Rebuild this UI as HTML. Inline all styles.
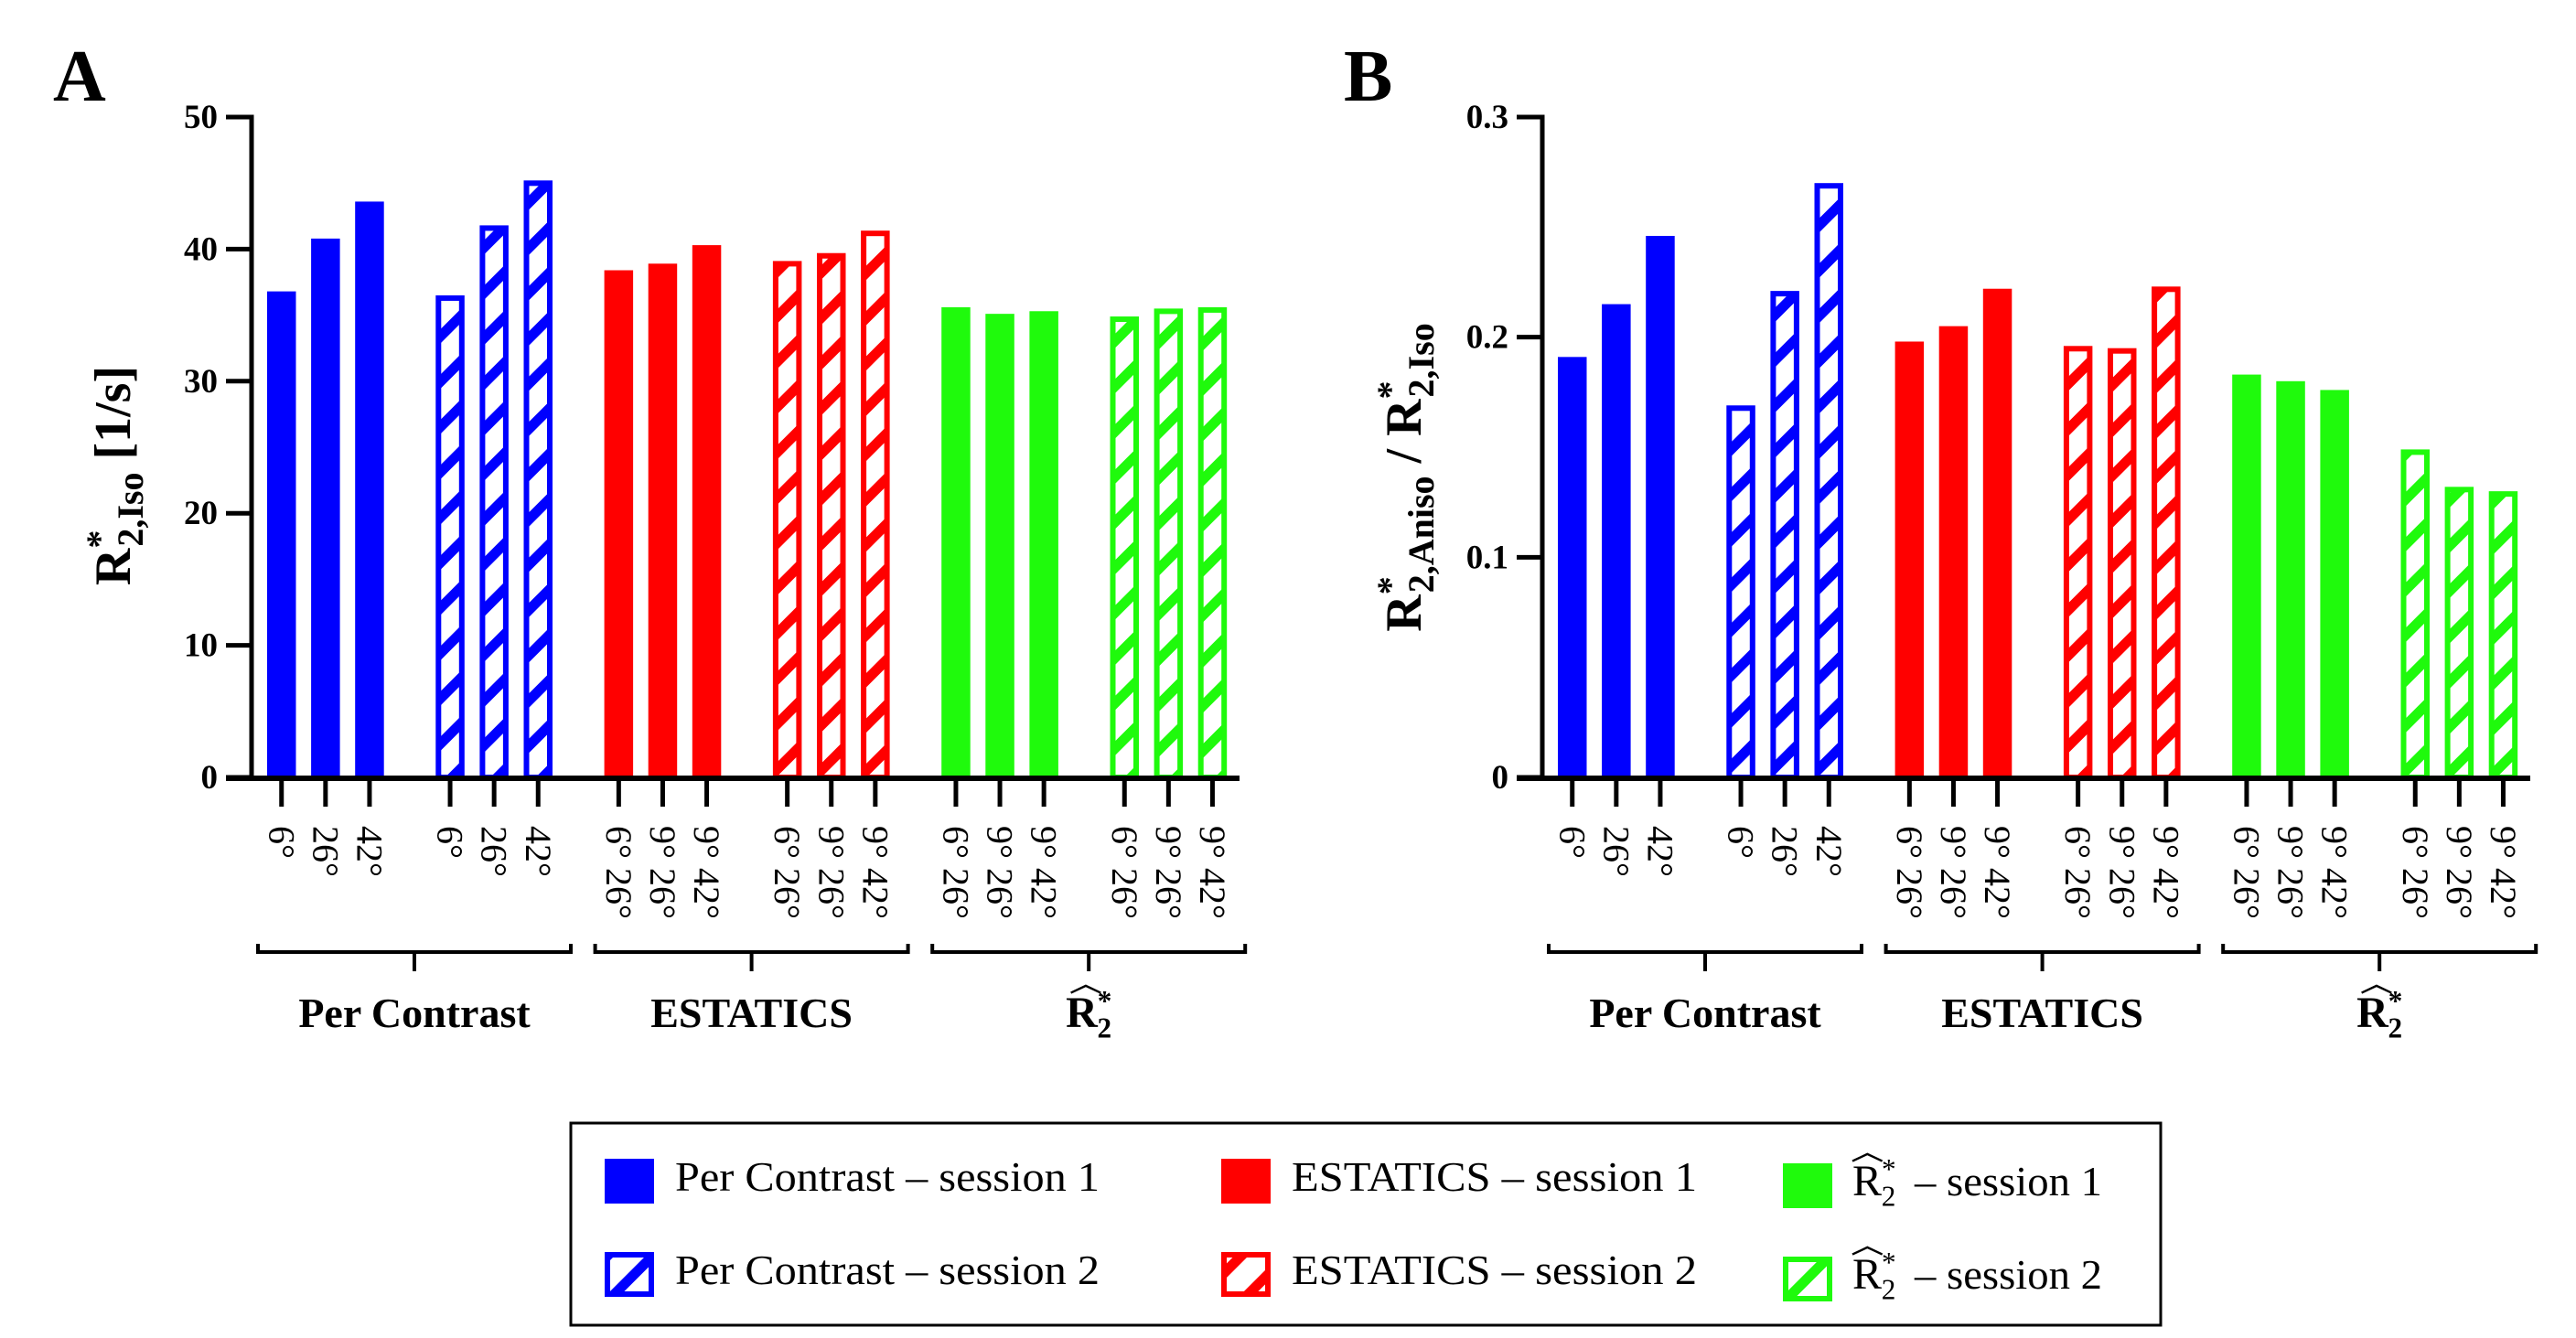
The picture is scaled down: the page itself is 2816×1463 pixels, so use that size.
<!DOCTYPE html>
<html><head><meta charset="utf-8"><style>
html,body{margin:0;padding:0;background:#fff;}
svg, svg text{font-family:"Liberation Serif","DejaVu Serif",serif;}
</style></head><body>
<svg id="fig" width="2816" height="1458" viewBox="0 0 2816 1458" xmlns="http://www.w3.org/2000/svg" font-family="Liberation Serif, DejaVu Serif, serif">
<defs>
<pattern id="hb" patternUnits="userSpaceOnUse" width="35" height="10" patternTransform="rotate(45)"><rect width="35" height="10" fill="#fff"/><rect width="11" height="10" fill="#0000ff"/></pattern>
<pattern id="hr" patternUnits="userSpaceOnUse" width="35" height="10" patternTransform="rotate(45)"><rect width="35" height="10" fill="#fff"/><rect width="11" height="10" fill="#ff0000"/></pattern>
<pattern id="hg" patternUnits="userSpaceOnUse" width="35" height="10" patternTransform="rotate(45)"><rect width="35" height="10" fill="#fff"/><rect width="11" height="10" fill="#1ffa0c"/></pattern>
</defs>
<g id="panelA"></g>
<g id="panelB"></g>
<g id="legend"></g>
</svg>
<script>
// ---- data ----
const groupNames = ["Per Contrast", "ESTATICS", "R2hat"];
const sessions = ["session 1", "session 2"];
const angleLabelsPC = ["6°", "26°", "42°"];
const angleLabelsOther = ["6° 26°", "9° 26°", "9° 42°"];
const ticksA = [0, 10, 20, 30, 40, 50];
const tickLabelsA = ["0", "10", "20", "30", "40", "50"];
const ticksB = [0, 0.1, 0.2, 0.3];
const tickLabelsB = ["0", "0.1", "0.2", "0.3"];
// Panel A values (R2*,Iso [1/s])
const pcS1A = [36.8, 40.8, 43.6];
const pcS2A = [36.5, 41.8, 45.2];
const esS1A = [38.4, 38.9, 40.3];
const esS2A = [39.1, 39.7, 41.4];
const r2S1A = [35.6, 35.1, 35.3];
const r2S2A = [34.9, 35.5, 35.6];
// Panel B values (R2*,Aniso / R2*,Iso)
const pcS1B = [0.191, 0.215, 0.246];
const pcS2B = [0.169, 0.221, 0.270];
const esS1B = [0.198, 0.205, 0.222];
const esS2B = [0.196, 0.195, 0.223];
const r2S1B = [0.183, 0.180, 0.176];
const r2S2B = [0.149, 0.132, 0.130];

const NS = "http://www.w3.org/2000/svg";
const FONT = "Liberation Serif, DejaVu Serif, serif";
const colors = ["#0000ff", "#ff0000", "#1ffa0c"];
const patterns = ["url(#hb)", "url(#hr)", "url(#hg)"];
function mk(tag, attrs, parent) {
  const e = document.createElementNS(NS, tag);
  if (tag === "text") e.setAttribute("font-family", FONT);
  for (const k in attrs) e.setAttribute(k, attrs[k]);
  if (parent) parent.appendChild(e);
  return e;
}
function rhat(parent, x, y, size, weight, anchorCenter) {
  const g = mk("g", {}, parent);
  
  
  const t = mk("text", {x: x, y: y, "font-size": size, "font-weight": weight, "text-anchor": anchorCenter ? "middle" : "start"}, g);
  t.textContent = "R";
  const s1 = mk("tspan", {dy: -size * 0.38, "font-size": size * 0.65}, t); s1.textContent = "*";
  const s2 = mk("tspan", {dx: -size * 0.33, dy: size * 0.62, "font-size": size * 0.65}, t); s2.textContent = "2";
  const w = size * 0.68;
  let rx0 = anchorCenter ? x - w * 0.6 : x;
  const hy = y - size * 0.78;
  mk("path", {d: `M${rx0} ${hy} L${rx0 + w * 0.5} ${hy - size * 0.16} L${rx0 + w} ${hy}`, fill: "none", stroke: "#000", "stroke-width": size * 0.05}, g);
  return g;
}

function drawPanel(root, dx, vals, ymax, ticks, tickLabels, titleFn, letter) {
  const y0 = 850, yTop = 128;
  const yScale = v => y0 - (v / ymax) * (y0 - yTop);
  const xAxis = 275 + dx;
  const barX = (grp, i) => 292 + dx + grp * 184.3 + i * 48.1;
  const bw = 31.5;
  const L = mk("text", {x: 58 + dx, y: 110, "font-size": 80, "font-weight": "bold"}, root);
  
  
  L.textContent = letter;
  vals.forEach((series, si) => {
    const fam = Math.floor(si / 2), hatched = si % 2 === 1;
    series.forEach((v, i) => {
      const x = barX(si, i), y = yScale(v);
      let r;
      if (!hatched) {
        r = mk("rect", {x: x, y: y, width: bw, height: y0 - y, fill: colors[fam]}, root);
      } else {
        r = mk("rect", {x: x + 3, y: y + 3, width: bw - 6, height: y0 - y - 3, fill: patterns[fam], stroke: colors[fam], "stroke-width": 6}, root);
      }
      
      
      const cx = x + bw / 2;
      mk("line", {x1: cx, y1: y0, x2: cx, y2: 882, stroke: "#000", "stroke-width": 5}, root);
      const lbl = fam === 0 ? angleLabelsPC[i] : angleLabelsOther[i];
      const t = mk("text", {x: 0, y: 0, "font-size": 40, "dominant-baseline": "central", transform: `translate(${cx},903) rotate(90)`}, root);
      
      
      t.textContent = lbl;
    });
  });
  const ya = mk("line", {x1: xAxis, y1: yTop - 2.5, x2: xAxis, y2: y0, stroke: "#000", "stroke-width": 5}, root);
  
  
  const xa = mk("line", {x1: 247 + dx, y1: y0 + 1, x2: 1355 + dx, y2: y0 + 1, stroke: "#000", "stroke-width": 6}, root);
  
  
  ticks.forEach((tv, k) => {
    const y = yScale(tv);
    mk("line", {x1: 247 + dx, y1: y, x2: xAxis, y2: y, stroke: "#000", "stroke-width": 5}, root);
    const t = mk("text", {x: 238 + dx, y: y + 12, "font-size": 37, "font-weight": "bold", "text-anchor": "end"}, root);
    
    
    t.textContent = tickLabels[k];
  });
  for (let gi = 0; gi < 3; gi++) {
    const x1 = barX(gi * 2, 0) - 10, x2 = barX(gi * 2 + 1, 2) + bw + 20;
    const cx = (x1 + x2) / 2;
    const b = mk("path", {d: `M${x1} 1032 L${x1} 1041 L${x2} 1041 L${x2} 1032 M${cx} 1041 L${cx} 1062`, fill: "none", stroke: "#000", "stroke-width": 4}, root);
    
    
    if (gi < 2) {
      const t = mk("text", {x: cx, y: 1123, "font-size": 46, "font-weight": "bold", "text-anchor": "middle"}, root);
      
      
      t.textContent = groupNames[gi];
    } else {
      rhat(root, cx, 1123, 48, "bold", true);
    }
  }
  titleFn(root, dx);
}

function titleA(root, dx) {
  const t = mk("text", {x: 0, y: 0, "font-size": 56, "font-weight": "bold", "text-anchor": "middle", transform: `translate(${142 + dx},520) rotate(-90)`}, root);
  
  
  t.appendChild(document.createTextNode("R"));
  let s = mk("tspan", {dy: -20, "font-size": 40}, t); s.textContent = "*";
  s = mk("tspan", {dx: -18, dy: 34, "font-size": 40}, t); s.textContent = "2,Iso";
  s = mk("tspan", {dy: -14}, t); s.textContent = " [1/s]";
}
function titleB(root, dx) {
  const t = mk("text", {x: 0, y: 0, "font-size": 56, "font-weight": "bold", "text-anchor": "middle", transform: `translate(${1553},522) rotate(-90)`}, root);
  
  
  t.appendChild(document.createTextNode("R"));
  let s = mk("tspan", {dy: -20, "font-size": 40}, t); s.textContent = "*";
  s = mk("tspan", {dx: -18, dy: 34, "font-size": 40}, t); s.textContent = "2,Aniso";
  s = mk("tspan", {dy: -14}, t); s.textContent = " / R";
  s = mk("tspan", {dy: -20, "font-size": 40}, t); s.textContent = "*";
  s = mk("tspan", {dx: -18, dy: 34, "font-size": 40}, t); s.textContent = "2,Iso";
}

drawPanel(document.getElementById("panelA"), 0, [pcS1A, pcS2A, esS1A, esS2A, r2S1A, r2S2A], 50, ticksA, tickLabelsA, titleA, "A");
drawPanel(document.getElementById("panelB"), 1411, [pcS1B, pcS2B, esS1B, esS2B, r2S1B, r2S2B], 0.3, ticksB, tickLabelsB, titleB, "B");

const lg = document.getElementById("legend");
const box = mk("rect", {x: 624, y: 1228, width: 1738, height: 221, fill: "none", stroke: "#000", "stroke-width": 3}, lg);


const colX = [661, 1335, 1949];
const textX = [738, 1412, 2025];
const rowY = [1267, 1369];
const textLens = [464, 443];
for (let c = 0; c < 3; c++) {
  for (let r = 0; r < 2; r++) {
    const yOff = c === 2 ? 5 : 0;
    const g = mk("g", {}, lg);
    
    
    if (r === 0) mk("rect", {x: colX[c], y: rowY[r] + yOff, width: 54, height: 49, fill: colors[c]}, g);
    else mk("rect", {x: colX[c] + 3, y: rowY[r] + yOff + 3, width: 48, height: 43, fill: patterns[c], stroke: colors[c], "stroke-width": 6}, g);
    const by = rowY[r] + 35 + yOff;
    if (c < 2) {
      const t = mk("text", {x: textX[c], y: by, "font-size": 46, textLength: textLens[c], lengthAdjust: "spacingAndGlyphs"}, g);
      t.textContent = groupNames[c] + " – " + sessions[r];
    } else {
      rhat(g, textX[c], by, 48, "normal", false);
      const t = mk("text", {x: textX[c] + 68, y: by, "font-size": 46, textLength: 205, lengthAdjust: "spacingAndGlyphs"}, g);
      t.textContent = " – " + sessions[r];
    }
  }
}
</script>
</body></html>
